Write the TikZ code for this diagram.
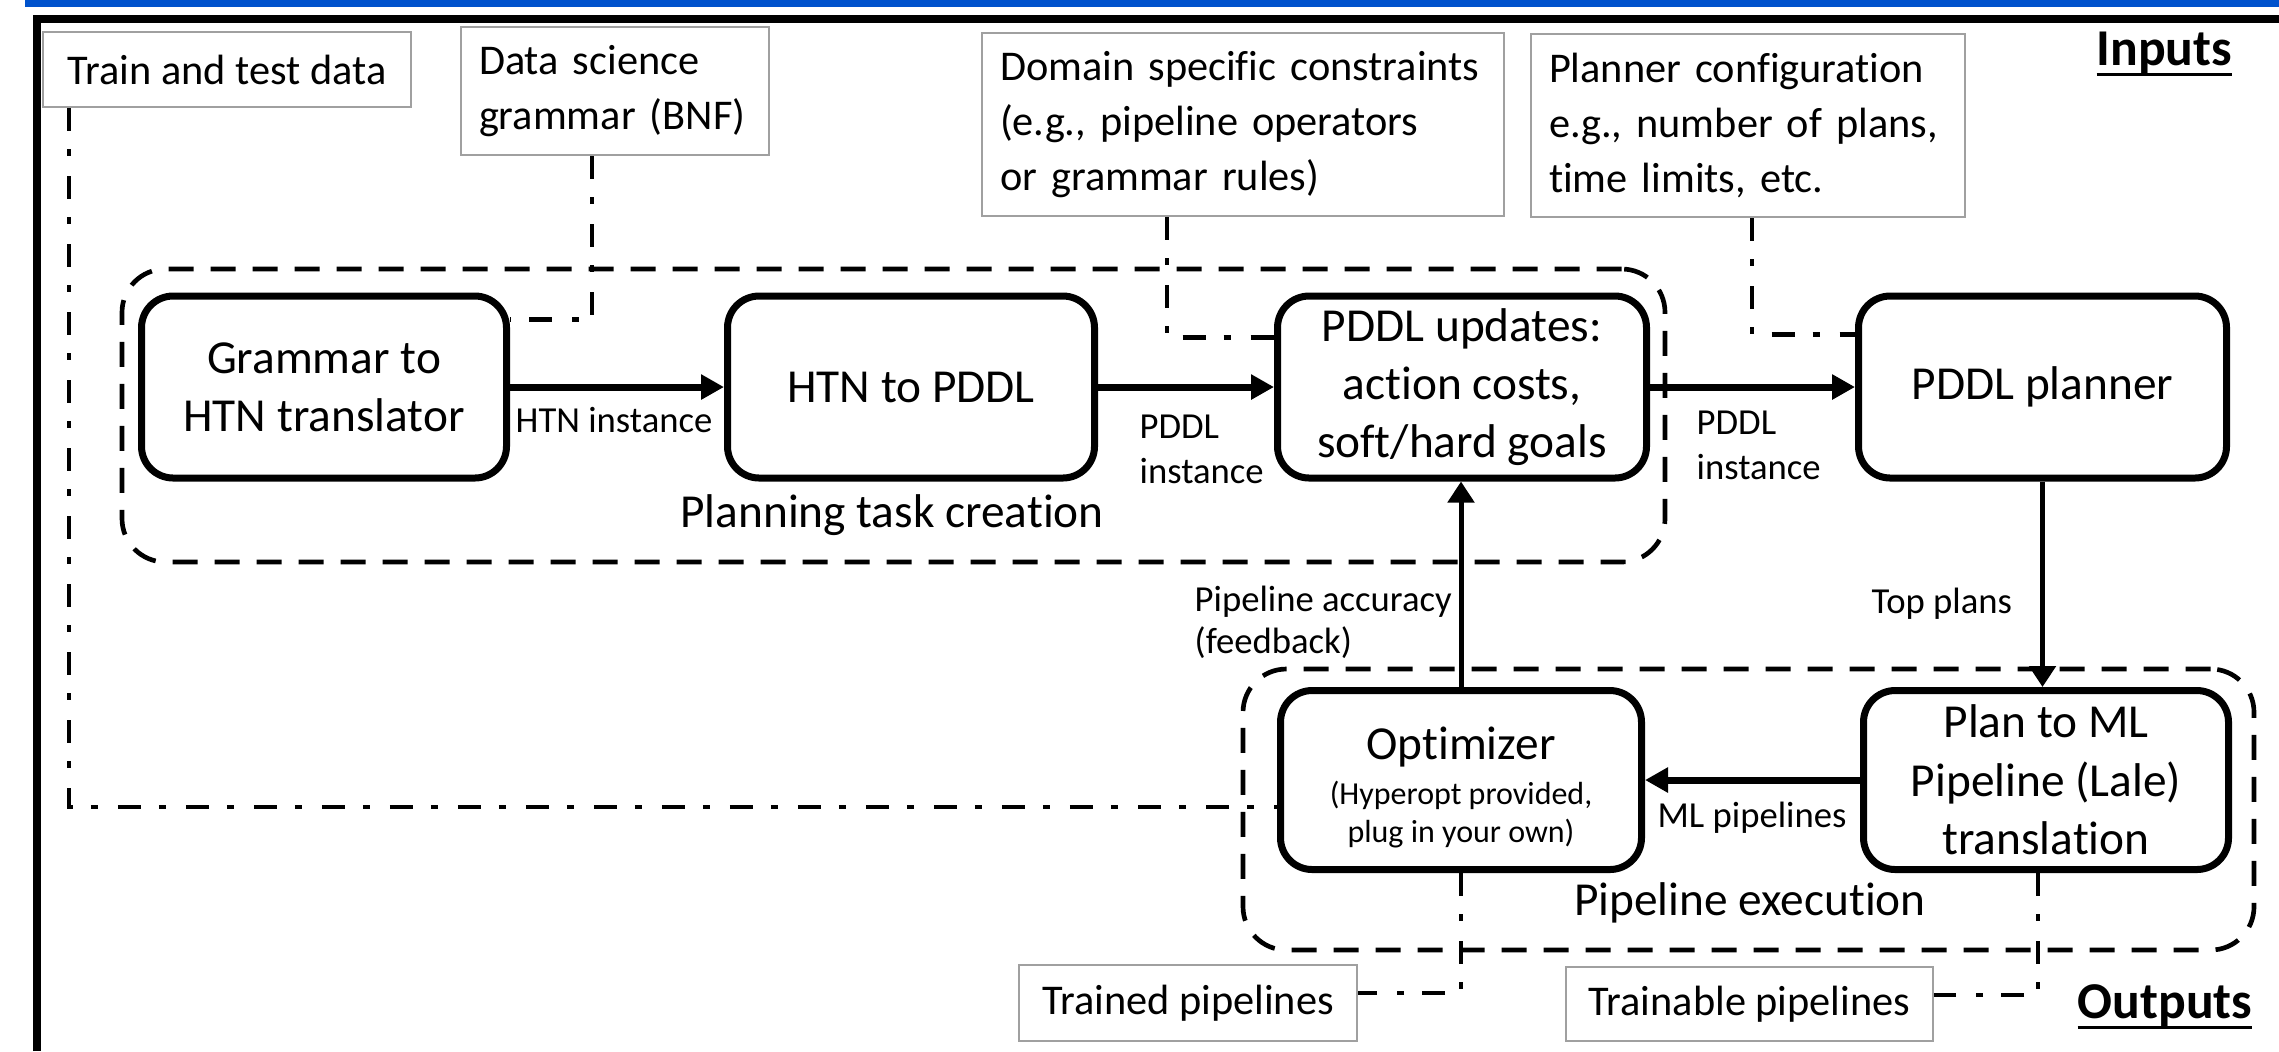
\documentclass[tikz,border=0pt]{standalone}
\usepackage{fontspec}
\setmainfont{Carlito}[Ligatures=NoCommon]
\usetikzlibrary{arrows.meta,calc}
\definecolor{barblue}{RGB}{0,82,204}
\definecolor{boxgray}{RGB}{160,160,160}
\newcommand\fs[2]{\fontsize{#1}{#2}\selectfont}
\newcommand\myul[1]{\leavevmode\setbox0=\hbox{#1}\rlap{\rule[-3.3pt]{\wd0}{1pt}}\box0}
\begin{document}
\begin{tikzpicture}[x=0.3pt,y=-0.3pt,
  mainbox/.style={draw,line width=2.1pt,rounded corners=9.5pt,align=center,inner sep=0pt,font=\fs{14.2pt}{17.5pt}},
  inbox/.style={draw=boxgray,line width=0.6pt,align=left,inner xsep=5.4pt,inner ysep=0pt,font=\fs{12.7pt}{16.5pt}},
  outbox/.style={draw=boxgray,line width=0.6pt,align=center,inner sep=0pt,font=\fs{12.7pt}{16.5pt}},
  grp/.style={draw,line width=1.4pt,dash pattern=on 7.5pt off 5.1pt,rounded corners=13pt,inner sep=0pt},
  grplabel/.style={font=\fs{14.2pt}{17pt},inner sep=0pt,anchor=base},
  elabel/.style={font=\fs{11pt}{13.4pt},inner sep=0pt,align=left},
  arr/.style={line width=2.1pt,-{Triangle[length=6.9pt,width=7.2pt]}},
  varr/.style={line width=1.5pt,-{Triangle[length=6.3pt,width=7.8pt]}},
  dd/.style={line width=1.3pt,dash pattern=on 6.9pt off 5.4pt on 2.1pt off 6pt},
  hdr/.style={font=\fs{15.5pt}{18pt}\bfseries,inner sep=0pt},
]
\useasboundingbox (0,0) rectangle (2279,1051);
% top bar and frame
\fill[barblue] (25,0) rectangle (2279,7);
\draw[line width=2.4pt] (37,1051) -- (37,19) -- (2279,19);

% group boxes
\node[grp,minimum width=462.9pt,minimum height=87.9pt] (PTC) at (893.5,415.5) {};
\node[grp,minimum width=303.3pt,minimum height=84.3pt] (PEX) at (1748.5,809.5) {};
\node[grplabel] (PTCl) at (892,527) {Planning task creation};
\node[grplabel] (PEXl) at (1750,915) {Pipeline execution};

% main boxes
\node[mainbox,minimum width=109.5pt,minimum height=54.6pt] (G) at (324,387) {Grammar to\\HTN translator};
\node[mainbox,minimum width=110.1pt,minimum height=54.6pt] (H) at (911,387) {HTN to PDDL};
\node[mainbox,minimum width=110.7pt,minimum height=54.6pt] (U) at (1462,387) {PDDL updates:\\action costs,\\soft/hard goals};
\node[mainbox,minimum width=110.4pt,minimum height=54.6pt] (P) at (2042.5,387) {PDDL planner};
\node[mainbox,minimum width=108.3pt,minimum height=53.7pt,font=\fs{14.2pt}{11.4pt}] (O) at (1461,780)
  {\rule{0pt}{14.2pt}Optimizer\\[2.1pt]\fs{9.6pt}{11.4pt}(Hyperopt provided,\\\fs{9.6pt}{11.4pt}plug in your own)};
\node[mainbox,minimum width=109.5pt,minimum height=53.7pt] (L) at (2046,780) {Plan to ML\\Pipeline (Lale)\\translation};

% input boxes
\node[outbox,minimum width=110.4pt,minimum height=22.5pt] (TT) at (227,69.5) {Train and test data};
\node[inbox,text width=81.6pt,minimum height=38.4pt] (DSG) at (615,91) {Data science\\grammar (BNF)};
\node[inbox,text width=145.8pt,minimum height=54.9pt] (DSC) at (1243,124.5) {Domain specific constraints\\(e.g., pipeline operators\\or grammar rules)};
\node[inbox,text width=119.4pt,minimum height=54.9pt] (PC) at (1748,125.5) {Planner configuration\\e.g., number of plans,\\time limits, etc.};
% output boxes
\node[outbox,minimum width=101.4pt,minimum height=22.8pt] (TR) at (1188,1003) {Trained pipelines};
\node[outbox,minimum width=110.1pt,minimum height=22.2pt] (TB) at (1749.5,1004) {Trainable pipelines};

\node[hdr,anchor=base west] (IN) at (2096,65) {\myul{Inputs}};
\node[hdr,anchor=base west] (OUT) at (2077,1018) {\myul{Outputs}};

% dash-dot input/output connectors
\draw[dd] ($(TT.south west)+(27,0)$) |- ($(O.west)+(0,27)$);
\draw[dd] ($(DSG.south)+(-23,0)$) |- ($(G.north east)+(0,27)$);
\draw[dd] ($(DSC.south)+(-76,0)$) |- ($(U.north west)+(0,45)$);
\draw[dd] ($(PC.south)+(4,0)$) |- ($(P.north west)+(0,42)$);
\draw[dd] (O.south) |- ($(TR.east)+(0,-10)$);
\draw[dd] ($(L.south)+(-8,0)$) |- ($(TB.east)+(0,-9)$);

% flow arrows
\draw[arr] (G) -- (H);
\draw[arr] (H) -- (U);
\draw[arr] (U) -- (P);
\draw[varr] (P.south) -- (P.south |- L.north);
\draw[arr] (L) -- (O);
\draw[varr] (O.north) -- (O.north |- U.south);

% edge labels
\node[elabel,anchor=base] (l1) at (614,432) {HTN instance};
\node[elabel,anchor=west] (l2) at (1139,449.5) {PDDL\\instance};
\node[elabel,anchor=west] (l3) at (1696,445.5) {PDDL\\instance};
\node[elabel,anchor=base west] (l4) at (1871,613) {Top plans};
\node[elabel,anchor=west,font=\fs{11pt}{12.6pt}] (l5) at (1194,622) {Pipeline accuracy\\(feedback)};
\node[elabel,anchor=base] (l6) at (1752,827) {ML pipelines};
\end{tikzpicture}
\end{document}
